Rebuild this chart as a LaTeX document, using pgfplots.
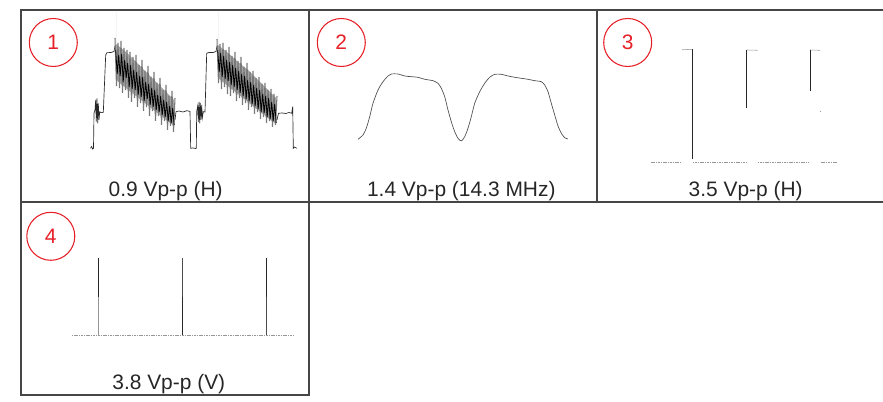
\documentclass[border=0pt]{standalone}
\usepackage{pgfplots}
\pgfplotsset{compat=1.18}
\usepackage{fontspec}
\setmainfont{Liberation Sans}
\definecolor{frame}{RGB}{70,70,70}
\definecolor{cred}{RGB}{230,32,40}
\definecolor{wave}{RGB}{40,40,40}
\definecolor{lgray}{RGB}{150,150,150}
\definecolor{bandfill}{RGB}{165,165,165}
\definecolor{bandline}{RGB}{120,120,120}
\pgfplotsset{
  panel/.style={
    scale only axis, width=216pt,
    xmin=0, xmax=288, ymin=0, y dir=reverse,
    xtick=\empty, ytick=\empty, clip=false,
    axis line style={line width=1.5pt, draw=frame},
    anchor=north west,
  },
}
\newcommand{\lbl}{\fontsize{15.7pt}{18pt}\selectfont}
\begin{document}
\begin{tikzpicture}
\useasboundingbox (0,0) rectangle (662.25pt,-301.5pt);
\clip (0,0) rectangle (662.25pt,-301.5pt);
% ---------------- Panel 1
\begin{axis}[panel, at={(15.75pt,-7.5pt)}, height=144.2pt, ymax=192.3]
\addplot[fill=bandfill, draw=none] coordinates {
(95,34)(105,42)(115,52)(125,62)(135,72)(145,82)(153,90)(153,116)(145,110)(135,102)(125,94)(115,86)(105,78)(95,70)} \closedcycle;
\addplot[fill=bandfill, draw=none] coordinates {
(197,35)(207,43)(217,52)(227,60)(237,70)(247,80)(255,88)(255,114)(247,108)(237,100)(227,92)(217,84)(207,76)(197,68)} \closedcycle;
\addplot[wave, line width=0.5pt] coordinates {
(69.5,138.3)(70.7,136.5)(71.5,139)(72.5,138.3)(73,103.3)
(74,100)(74.7,90)(75.3,111.7)(76,88.3)(76.7,113.3)(77.3,93.3)(78,110)(78.7,101.7)
(80,102.7)(82.3,102.3)(84.7,45)(86,42.7)(90,42.5)(93,41.5)(94,36)};
\addplot[bandline, line width=0.8pt] coordinates {
(94,28)(95.5,76)(97,33)(98.5,78)(100,31)(101.5,83)(103,38)(104.5,80)(106,40)(107.5,88)(109,42)(110.5,92)(112,47)(113.5,88)(115,45)(116.5,97)(118,55)(119.5,93)(121,50)(122.5,101)(124,61)(125.5,97)(127,56)(128.5,106)(130,67)(131.5,101)(133,62)(134.5,111)(136,73)(137.5,106)(139,68)(140.5,115)(142,80)(143.5,111)(145,75)(146.5,120)(148,86)(149.5,116)(151,81)(152.5,122)(154,88)};
\addplot[black, line width=0.6pt] coordinates {
(94.7,40)(96.2,64)(97.7,45)(99.2,66)(100.7,44)(102.2,72)(103.7,50)(105.2,68)(106.7,53)(108.2,77)(109.7,55)(111.2,79)(112.7,60)(114.2,80)(115.7,62)(117.2,85)(118.7,66)(120.2,87)(121.7,67)(123.2,91)(124.7,72)(126.2,89)(127.7,74)(129.2,95)(130.7,78)(132.2,97)(133.7,80)(135.2,100)(136.7,85)(138.2,102)(139.7,86)(141.2,105)(142.7,90)(144.2,107)(145.7,92)(147.2,111)(148.7,96)(150.2,113)(151.7,98)(153.2,115)};
\addplot[wave, line width=0.5pt] coordinates {
(154,110)(155,101.7)(158,101)(162,102)(166,100.7)(169,101.5)(169.7,138.3)(172,138)(174.5,138.5)(175.3,138.3)(175.7,101.7)
(176.7,96)(177.3,112)(178,92)(178.7,113.5)(179.3,93)(180,110)(180.7,95)(181.3,108)(182.3,101.7)
(184,102)(185.7,43.3)(188,42.5)(192,42.5)(195,41.5)(196,36)};
\addplot[bandline, line width=0.8pt] coordinates {
(196,29)(197.5,73)(199,34)(200.5,79)(202,33)(203.5,77)(205,40)(206.5,84)(208,37)(209.5,86)(211,46)(212.5,83)(214,42)(215.5,91)(217,51)(218.5,88)(220,47)(221.5,95)(223,57)(224.5,93)(226,53)(227.5,100)(229,62)(230.5,97)(232,61)(233.5,104)(235,68)(236.5,102)(238,67)(239.5,109)(241,74)(242.5,107)(244,73)(245.5,113)(247,80)(248.5,111)(250,79)(251.5,117)(253,84)(254.5,115)(256,86)};
\addplot[black, line width=0.6pt] coordinates {
(196.7,40)(198.2,62)(199.7,43)(201.2,67)(202.7,46)(204.2,69)(205.7,50)(207.2,71)(208.7,52)(210.2,75)(211.7,55)(213.2,77)(214.7,58)(216.2,80)(217.7,61)(219.2,83)(220.7,64)(222.2,86)(223.7,66)(225.2,89)(226.7,70)(228.2,91)(229.7,72)(231.2,94)(232.7,75)(234.2,96)(235.7,78)(237.2,99)(238.7,80)(240.2,102)(241.7,84)(243.2,103)(244.7,86)(246.2,107)(247.7,88)(249.2,109)(250.7,92)(252.2,111)(253.7,94)(255.2,113)};
\addplot[wave, line width=0.5pt] coordinates {
(256,110)(257.5,103.3)(261,103)(265,103.5)(268,102.5)(270.7,103.3)(271.7,96.7)(272.3,138.3)(273.5,137)(275.7,138.3)};
\draw[cred, line width=0.8pt] (axis cs:32.3,32.5) circle[radius=18pt];
\node[cred] at (axis cs:32.3,32.5) {\lbl 1};
\node[anchor=base, text=black!85] at (axis cs:144.7,186.7) {\lbl 0.9 Vp-p (H)};
\end{axis}
% ---------------- Panel 2
\begin{axis}[panel, at={(231.75pt,-7.5pt)}, height=144.2pt, ymax=192.3]
\addplot[black!70, line width=0.5pt, smooth, tension=0.4] coordinates {
(49,129.3)(54,125)(57.3,118.3)(60.7,106.7)(64,93.3)(69,80)(74,71.7)(79,66)(82.3,64)(89,64)(95.7,66)(102.3,66.7)(109,67.3)(115.7,69.3)(124,70.7)(129,73.3)(132.3,78.3)(135.7,86.7)(139,100)(142.3,111.7)(145.7,121.7)(149,128.3)(152.3,131)(155.7,126.7)(159,118.3)(162.3,106.7)(165.7,93.3)(170.7,81.7)(175.7,73.3)(180.7,67.3)(185.7,64.3)(192.3,64.3)(199,66)(205.7,67.3)(212.3,68.3)(219,69.3)(225.7,70.7)(232.3,71.7)(235.7,75)(239,81.7)(242.3,93.3)(245.7,105)(249,116)(252.3,123.3)(255.7,127.7)(259,129)};
\draw[cred, line width=0.8pt] (axis cs:32.3,32.5) circle[radius=18pt];
\node[cred] at (axis cs:32.3,32.5) {\lbl 2};
\node[anchor=base, text=black!85] at (axis cs:152.3,186.7) {\lbl 1.4 Vp-p (14.3 MHz)};
\end{axis}
% ---------------- Panel 3
\begin{axis}[panel, at={(447.75pt,-7.5pt)}, height=144.2pt, ymax=192.3]
\addplot[lgray, line width=0.4pt, dash pattern=on 1.2pt off 0.6pt] coordinates {(54,152.7)(84,152.7)};
\addplot[lgray, line width=0.4pt, dash pattern=on 1.2pt off 0.6pt] coordinates {(95.7,152.7)(149,152.7)};
\addplot[lgray, line width=0.4pt, dash pattern=on 1.2pt off 0.6pt] coordinates {(160.7,152.7)(212.3,152.7)};
\addplot[lgray, line width=0.4pt, dash pattern=on 1.2pt off 0.6pt] coordinates {(224,152.7)(240.7,152.7)};
\addplot[lgray, line width=0.4pt] coordinates {(85,39.8)(95,39.3)};
\addplot[lgray, line width=0.4pt] coordinates {(149.7,40)(160.7,40.3)};
\addplot[lgray, line width=0.4pt] coordinates {(213,40)(223,40.3)};
\addplot[wave, line width=0.6pt] coordinates {(95,39.3)(95,149.3)};
\addplot[wave, line width=0.6pt] coordinates {(149.7,40)(149.7,98.3)};
\addplot[wave, line width=0.6pt] coordinates {(213,40)(213,80.7)};
\addplot[lgray, line width=0.5pt] coordinates {(223,101)(223,102.3)};
\draw[cred, line width=0.8pt] (axis cs:30.7,32.5) circle[radius=18pt];
\node[cred] at (axis cs:30.7,32.5) {\lbl 3};
\node[anchor=base, text=black!85] at (axis cs:148.7,186.7) {\lbl 3.5 Vp-p (H)};
\end{axis}
% ---------------- Panel 4
\begin{axis}[panel, at={(15.75pt,-151.725pt)}, height=144.5pt, ymax=192.7]
\addplot[lgray, line width=0.4pt, dash pattern=on 1.2pt off 0.6pt] coordinates {(50.7,132.7)(272.3,132.7)};
\addplot[lgray, line width=0.6pt] coordinates {(77.3,94.4)(77.3,132.7)};
\addplot[wave, line width=0.7pt] coordinates {(77.3,56)(77.3,94.4)};
\addplot[black!70, line width=0.5pt] coordinates {(161.3,56)(161.3,94.4)};
\addplot[wave, line width=0.7pt] coordinates {(161.3,94.4)(161.3,132.7)};
\addplot[wave, line width=0.7pt] coordinates {(245,56)(245,94.4)};
\addplot[black!70, line width=0.5pt] coordinates {(245,94.4)(245,132.7)};
\draw[cred, line width=0.8pt] (axis cs:29.8,34) circle[radius=18pt];
\node[cred] at (axis cs:29.8,34) {\lbl 4};
\node[anchor=base, text=black!85] at (axis cs:147.8,187.2) {\lbl 3.8 Vp-p (V)};
\end{axis}
\end{tikzpicture}
\end{document}
